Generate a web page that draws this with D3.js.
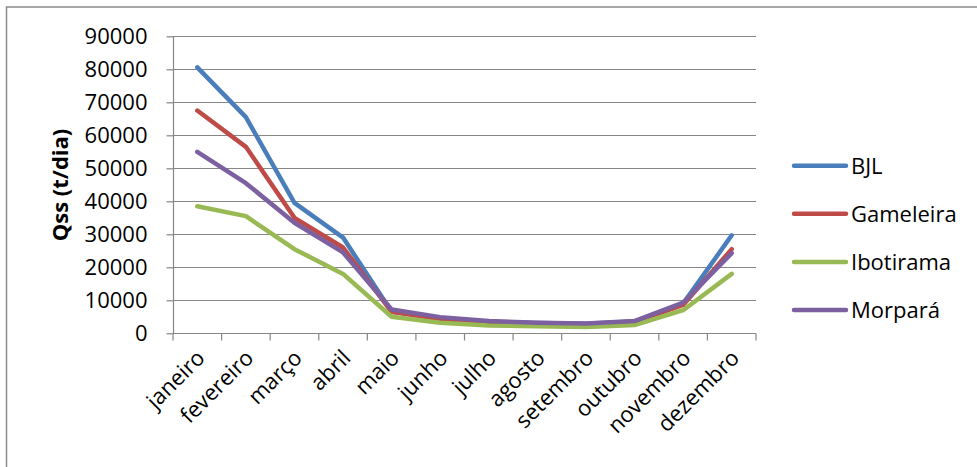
<!DOCTYPE html>
<html><head><meta charset="utf-8">
<script src="https://cdn.jsdelivr.net/npm/d3@7"></script>
<style>body{margin:0;background:#fff}svg{display:block}</style>
</head><body>
<script>
const months = ["janeiro","fevereiro","março","abril","maio","junho","julho","agosto","setembro","outubro","novembro","dezembro"];
const bjl       = [80600,65500,39500,29000,6500,4500,3400,3100,2900,3600,9000,29700];
const gameleira = [67500,56500,35000,26000,6500,4300,3300,2900,2700,3400,8600,25500];
const ibotirama = [38500,35500,25500,18000,5000,3200,2400,2100,1900,2500,7000,18000];
const morpara   = [55000,45500,33500,24500,7200,4900,3700,3200,3000,3700,9300,24300];
const seriesNames = ["BJL","Gameleira","Ibotirama","Morpará"];
const yTicks = [0,10000,20000,30000,40000,50000,60000,70000,80000,90000];

const colors = ["#4a7ebb","#be4b48","#98b954","#7d60a0"];
const seriesValues = [bjl, gameleira, ibotirama, morpara];
const W = 977, H = 467;
const font = "'Open Sans', sans-serif";

const svg = d3.select("body").append("svg").attr("width", W).attr("height", H);

svg.append("rect").attr("x", 6.5).attr("y", 7).attr("width", 1000).attr("height", 600)
  .attr("fill", "none").attr("stroke", "#8c8c8c").attr("stroke-width", 1.5);

const x = d3.scaleBand().domain(months).range([173, 756]);
const y = d3.scaleLinear().domain([0, 90000]).range([333.3, 36.3]);

// gridlines
svg.append("g").selectAll("line").data(yTicks.filter(d => d > 0)).join("line")
  .attr("x1", 173).attr("x2", 756)
  .attr("y1", d => Math.round(y(d)) + 0.5).attr("y2", d => Math.round(y(d)) + 0.5)
  .attr("stroke", "#868686").attr("stroke-width", 1.2);

// y axis
const yAxis = svg.append("g").attr("transform", "translate(173.5,0)")
  .call(d3.axisLeft(y).tickValues(yTicks).tickSize(7).tickPadding(19).tickFormat(d3.format("d")));
yAxis.selectAll("path,line").attr("stroke", "#868686").attr("stroke-width", 1.2);
yAxis.select(".domain").attr("d", `M0,${y(90000)}V${y(0)}`);
yAxis.selectAll("text").attr("font-family", font).attr("font-size", 22).attr("fill", "#000");

// x axis
const xAxis = svg.append("g").attr("transform", `translate(0,${Math.round(y(0)) + 0.5})`)
  .call(d3.axisBottom(x).tickSize(0).tickFormat(""));
xAxis.select(".domain").attr("stroke", "#868686").attr("stroke-width", 1.2).attr("d", "M173,0H756");
const boundaries = d3.range(months.length + 1).map(i => 173 + i * x.step());
xAxis.selectAll(".bnd").data(boundaries).join("line").attr("class", "bnd")
  .attr("x1", d => d).attr("x2", d => d).attr("y1", 0).attr("y2", 7)
  .attr("stroke", "#868686").attr("stroke-width", 1.2);
xAxis.selectAll(".lbl").data(months).join("text").attr("class", "lbl")
  .attr("transform", d => `translate(${x(d) + x.bandwidth() / 2 - 2},${15}) rotate(-45)`)
  .attr("text-anchor", "end").attr("dy", "0.7em")
  .attr("font-family", font).attr("font-size", 22).attr("fill", "#000")
  .text(d => d);

// y label
svg.append("text").attr("transform", "translate(68,185) rotate(-90)")
  .attr("text-anchor", "middle").attr("font-family", font).attr("font-size", 22)
  .attr("font-weight", "bold").text("Qss (t/dia)");

// lines
const line = d3.line().x((d, i) => x(months[i]) + x.bandwidth() / 2).y(d => y(d));
svg.append("g").selectAll("path").data(seriesValues).join("path")
  .attr("d", d => line(d)).attr("fill", "none")
  .attr("stroke", (d, i) => colors[i]).attr("stroke-width", 4.5)
  .attr("stroke-linejoin", "round").attr("stroke-linecap", "round");

// legend
const leg = svg.append("g").selectAll("g").data(seriesNames).join("g")
  .attr("transform", (d, i) => `translate(0,${165.7 + i * 48.1})`);
leg.append("line").attr("x1", 794).attr("x2", 846).attr("y1", 0).attr("y2", 0)
  .attr("stroke", (d, i) => colors[i]).attr("stroke-width", 4.5).attr("stroke-linecap", "round");
leg.append("text").attr("x", 851).attr("y", 0).attr("dy", "0.36em")
  .attr("font-family", font).attr("font-size", 22).attr("fill", "#000").text(d => d);
</script>
</body></html>
